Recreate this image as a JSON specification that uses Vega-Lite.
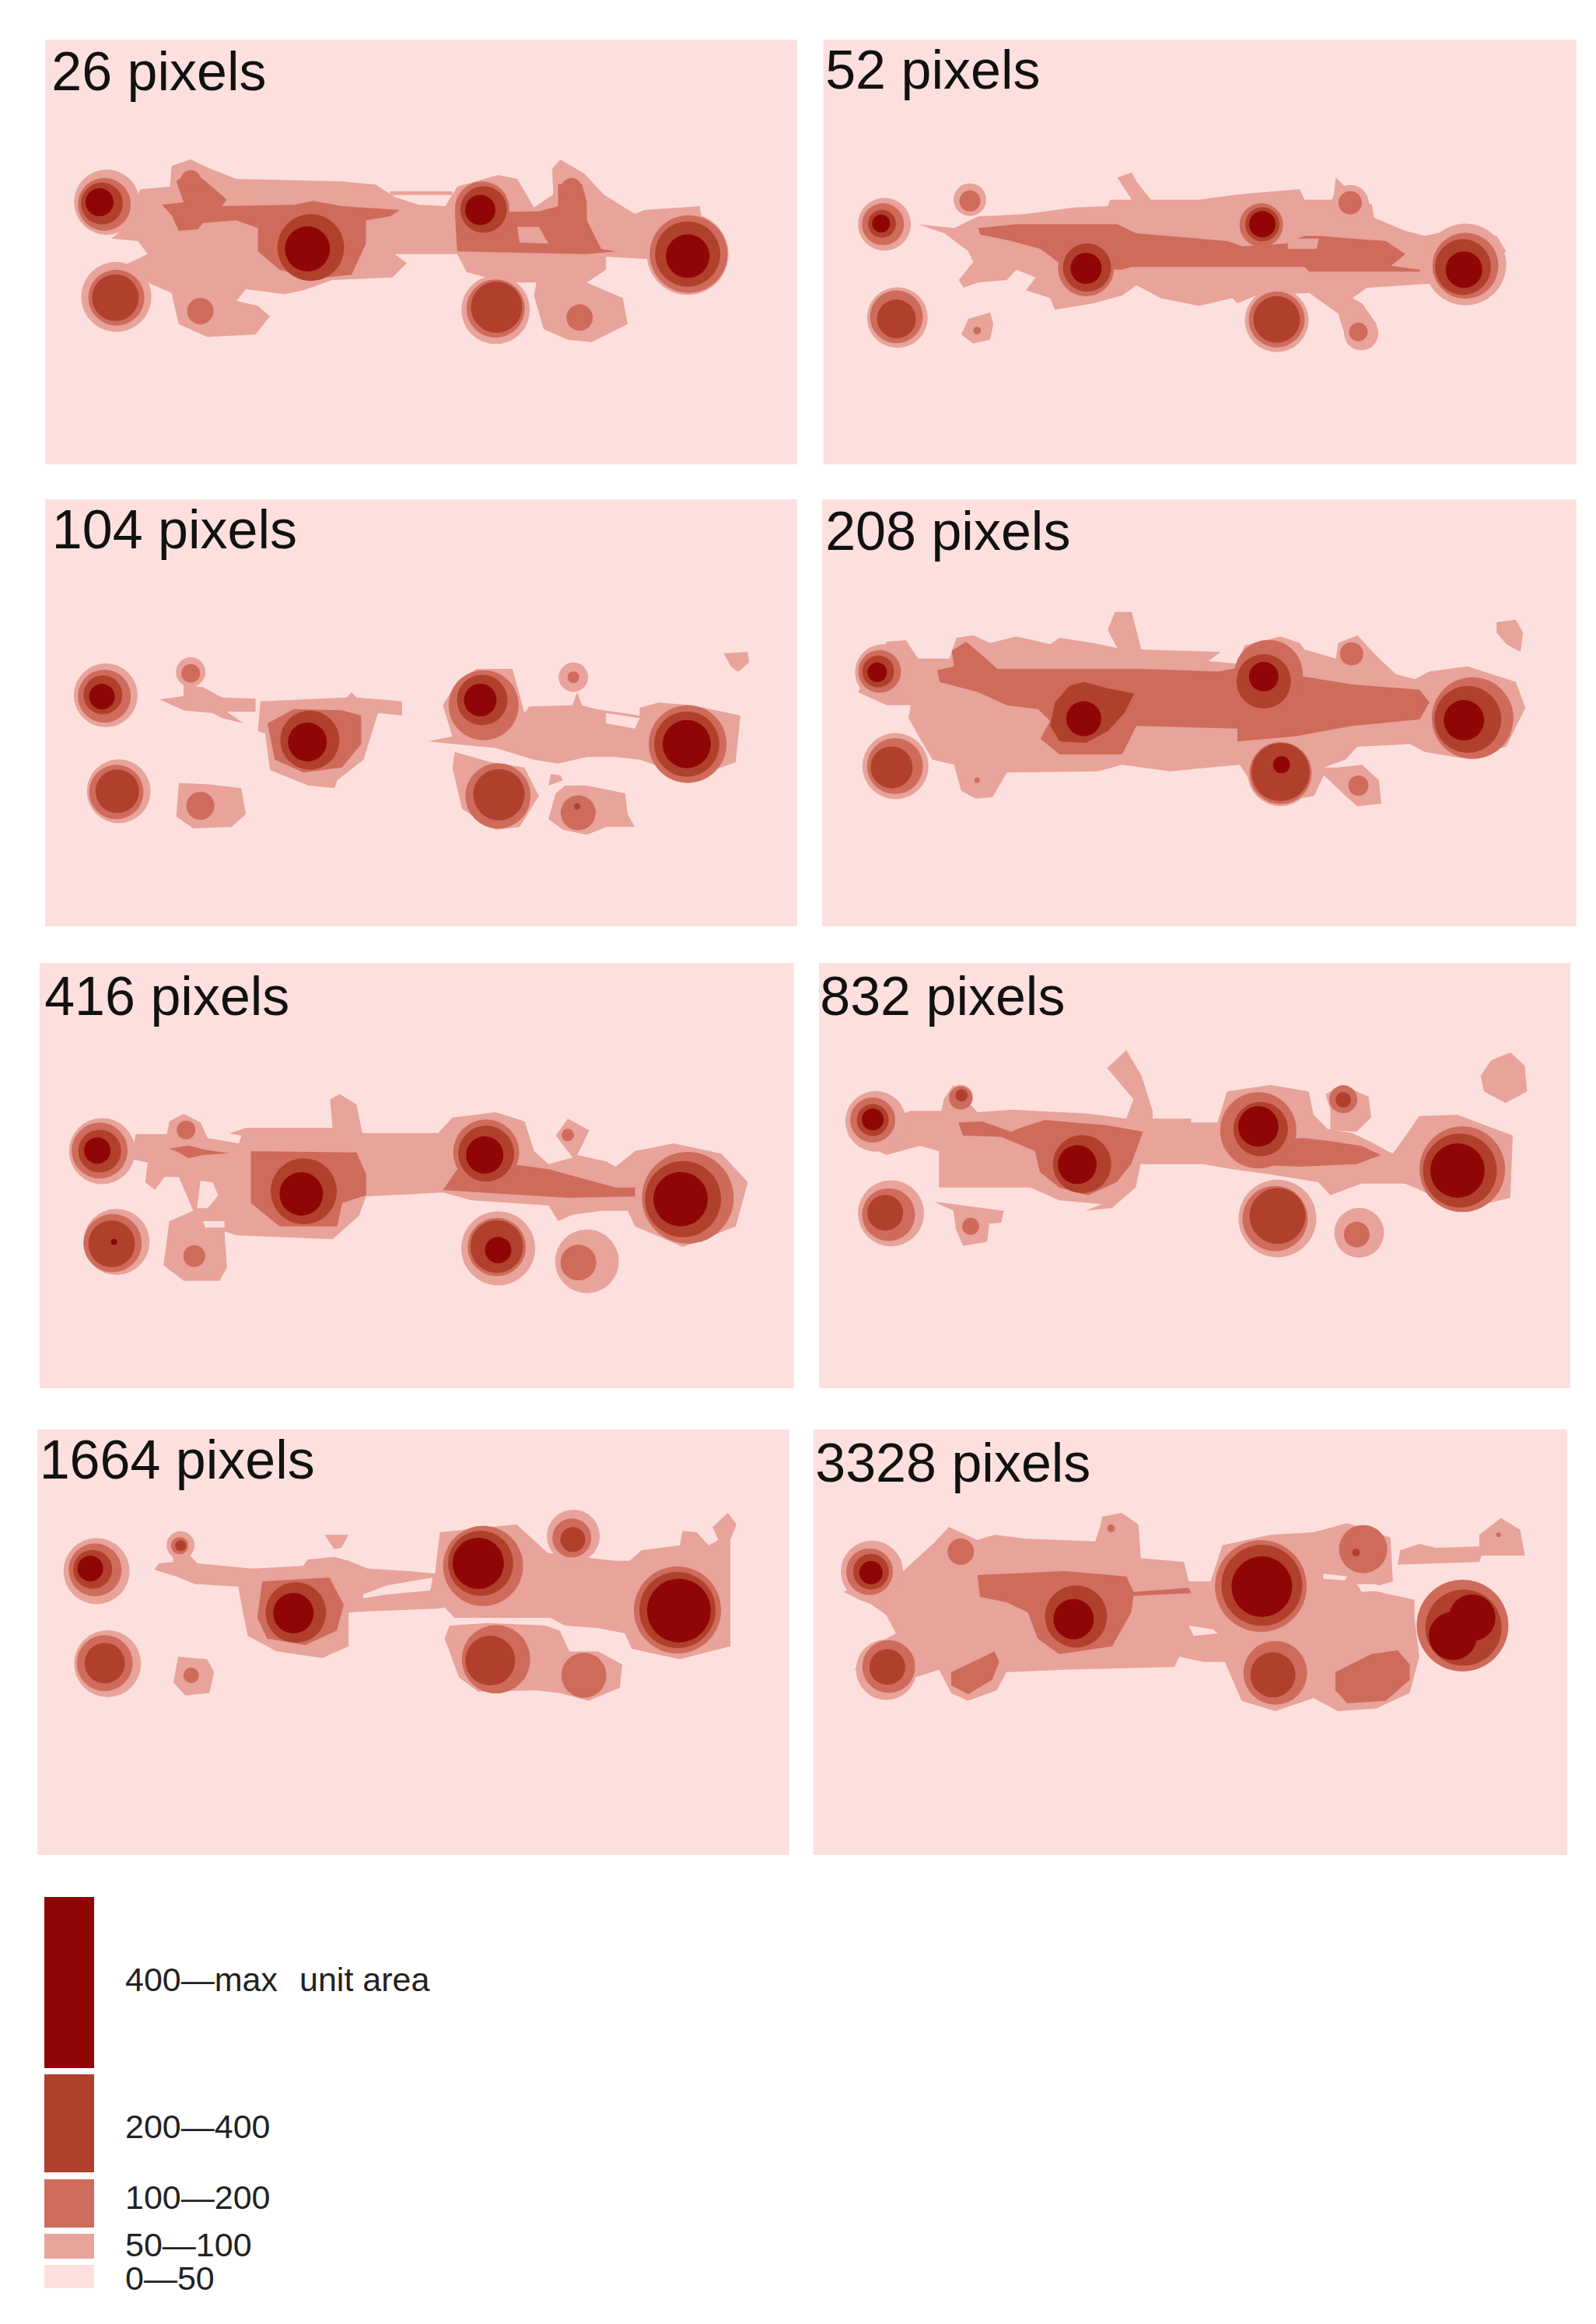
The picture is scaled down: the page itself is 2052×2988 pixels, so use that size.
{"$schema":"https://vega.github.io/schema/vega-lite/v6.json","padding":0,"background":"#ffffff","bounds":"flush","spacing":0,"columns":2,"config":{"view":{"stroke":null}},
"datasets":{
"f26":[{"x0":2,"x1":1568,"y0":-297,"y1":1341,"tx":15,"ty":-165,"label":"26 pixels"}],
"f52":[{"x0":-2,"x1":1566,"y0":-297,"y1":1341,"tx":2,"ty":-171,"label":"52 pixels"}],
"f104":[{"x0":2,"x1":1568,"y0":-414,"y1":1233,"tx":16,"ty":-288,"label":"104 pixels"}],
"f208":[{"x0":-5,"x1":1566,"y0":-384,"y1":1263,"tx":2,"ty":-252,"label":"208 pixels"}],
"f416":[{"x0":0,"x1":1571,"y0":-396,"y1":1245,"tx":10,"ty":-258,"label":"416 pixels"}],
"f832":[{"x0":0,"x1":1565,"y0":-306,"y1":1335,"tx":2,"ty":-168,"label":"832 pixels"}],
"f1664":[{"x0":2,"x1":1568,"y0":-276,"y1":1365,"tx":6,"ty":-150,"label":"1664 pixels"}],
"f3328":[{"x0":-2,"x1":1568,"y0":-276,"y1":1365,"tx":2,"ty":-138,"label":"3328 pixels"}],
"legend":[{"l":4,"x0":57,"x1":121,"y0":2439,"y1":2659,"ty":2547,"t":"400—max"},{"l":3,"x0":57,"x1":121,"y0":2667,"y1":2793,"ty":2736,"t":"200—400"},{"l":2,"x0":57,"x1":121,"y0":2802,"y1":2864,"ty":2827,"t":"100—200"},{"l":1,"x0":57,"x1":121,"y0":2872,"y1":2904,"ty":2888,"t":"50—100"},{"l":0,"x0":57,"x1":121,"y0":2912,"y1":2942,"ty":2931,"t":"0—50"}],
"unit":[{"tx":385,"ty":2547,"t":"unit area"}],
"a26":[{"g":1,"l":1,"x":200,"y":280},{"g":1,"l":1,"x":262,"y":270},{"g":1,"l":1,"x":265,"y":190},{"g":1,"l":1,"x":305,"y":165},{"g":1,"l":1,"x":345,"y":200},{"g":1,"l":1,"x":400,"y":240},{"g":1,"l":1,"x":620,"y":250},{"g":1,"l":1,"x":690,"y":262},{"g":1,"l":1,"x":730,"y":310},{"g":1,"l":1,"x":780,"y":340},{"g":1,"l":1,"x":835,"y":345},{"g":1,"l":1,"x":860,"y":270},{"g":1,"l":1,"x":945,"y":225},{"g":1,"l":1,"x":985,"y":240},{"g":1,"l":1,"x":1020,"y":350},{"g":1,"l":1,"x":1060,"y":300},{"g":1,"l":1,"x":1058,"y":200},{"g":1,"l":1,"x":1075,"y":165},{"g":1,"l":1,"x":1125,"y":220},{"g":1,"l":1,"x":1165,"y":300},{"g":1,"l":1,"x":1230,"y":375},{"g":1,"l":1,"x":1250,"y":360},{"g":1,"l":1,"x":1365,"y":345},{"g":1,"l":1,"x":1380,"y":520},{"g":1,"l":1,"x":1260,"y":550},{"g":1,"l":1,"x":1170,"y":540},{"g":1,"l":1,"x":1170,"y":590},{"g":1,"l":1,"x":1130,"y":640},{"g":1,"l":1,"x":1205,"y":700},{"g":1,"l":1,"x":1215,"y":800},{"g":1,"l":1,"x":1140,"y":870},{"g":1,"l":1,"x":1090,"y":860},{"g":1,"l":1,"x":1040,"y":820},{"g":1,"l":1,"x":1020,"y":690},{"g":1,"l":1,"x":1025,"y":640},{"g":1,"l":1,"x":960,"y":640},{"g":1,"l":1,"x":880,"y":600},{"g":1,"l":1,"x":860,"y":530},{"g":1,"l":1,"x":730,"y":530},{"g":1,"l":1,"x":755,"y":565},{"g":1,"l":1,"x":725,"y":620},{"g":1,"l":1,"x":600,"y":630},{"g":1,"l":1,"x":540,"y":670},{"g":1,"l":1,"x":500,"y":685},{"g":1,"l":1,"x":420,"y":665},{"g":1,"l":1,"x":400,"y":710},{"g":1,"l":1,"x":445,"y":730},{"g":1,"l":1,"x":470,"y":770},{"g":1,"l":1,"x":440,"y":840},{"g":1,"l":1,"x":340,"y":850},{"g":1,"l":1,"x":280,"y":800},{"g":1,"l":1,"x":265,"y":680},{"g":1,"l":1,"x":215,"y":640},{"g":1,"l":1,"x":170,"y":570},{"g":1,"l":1,"x":215,"y":530},{"g":1,"l":1,"x":195,"y":480},{"g":1,"l":1,"x":140,"y":470},{"g":1,"l":1,"x":160,"y":440},
{"g":2,"l":1,"x":720,"y":288},{"g":2,"l":1,"x":850,"y":288},{"g":2,"l":1,"x":850,"y":302},{"g":2,"l":1,"x":720,"y":302},
{"g":10,"l":2,"x":245,"y":340},{"g":10,"l":2,"x":290,"y":330},{"g":10,"l":2,"x":275,"y":250},{"g":10,"l":2,"x":300,"y":210},{"g":10,"l":2,"x":330,"y":240},{"g":10,"l":2,"x":380,"y":320},{"g":10,"l":2,"x":370,"y":345},{"g":10,"l":2,"x":520,"y":340},{"g":10,"l":2,"x":560,"y":325},{"g":10,"l":2,"x":620,"y":345},{"g":10,"l":2,"x":740,"y":360},{"g":10,"l":2,"x":720,"y":385},{"g":10,"l":2,"x":670,"y":400},{"g":10,"l":2,"x":670,"y":490},{"g":10,"l":2,"x":640,"y":610},{"g":10,"l":2,"x":560,"y":625},{"g":10,"l":2,"x":490,"y":590},{"g":10,"l":2,"x":445,"y":520},{"g":10,"l":2,"x":445,"y":430},{"g":10,"l":2,"x":400,"y":400},{"g":10,"l":2,"x":330,"y":410},{"g":10,"l":2,"x":320,"y":435},{"g":10,"l":2,"x":280,"y":440},{"g":10,"l":2,"x":265,"y":380},
{"g":11,"l":2,"x":855,"y":370},{"g":11,"l":2,"x":1030,"y":365},{"g":11,"l":2,"x":1070,"y":345},{"g":11,"l":2,"x":1070,"y":260},{"g":11,"l":2,"x":1120,"y":260},{"g":11,"l":2,"x":1130,"y":330},{"g":11,"l":2,"x":1130,"y":400},{"g":11,"l":2,"x":1160,"y":510},{"g":11,"l":2,"x":1190,"y":520},{"g":11,"l":2,"x":1130,"y":530},{"g":11,"l":2,"x":860,"y":520},
{"g":12,"l":1,"x":985,"y":425},{"g":12,"l":1,"x":1030,"y":425},{"g":12,"l":1,"x":1050,"y":490},{"g":12,"l":1,"x":990,"y":485}],
"b26":[{"l":1,"x":130,"y":330,"d":84},{"l":1,"x":1340,"y":530,"d":105},{"l":1,"x":150,"y":695,"d":90},{"l":1,"x":940,"y":745,"d":88},{"l":2,"x":125,"y":338,"d":68},{"l":2,"x":305,"y":245,"d":26},{"l":2,"x":912,"y":355,"d":70},{"l":2,"x":1098,"y":275,"d":26},{"l":2,"x":1342,"y":530,"d":100},{"l":2,"x":150,"y":698,"d":72},{"l":2,"x":325,"y":750,"d":34},{"l":2,"x":940,"y":740,"d":75},{"l":2,"x":1115,"y":775,"d":34},{"l":3,"x":120,"y":335,"d":54},{"l":3,"x":555,"y":505,"d":86},{"l":3,"x":915,"y":358,"d":60},{"l":3,"x":1340,"y":530,"d":84},{"l":3,"x":148,"y":698,"d":60},{"l":3,"x":942,"y":735,"d":66},{"l":4,"x":115,"y":330,"d":36},{"l":4,"x":548,"y":510,"d":58},{"l":4,"x":908,"y":360,"d":39},{"l":4,"x":1340,"y":538,"d":56}],
"a52":[{"g":1,"l":1,"x":195,"y":415},{"g":1,"l":1,"x":270,"y":430},{"g":1,"l":1,"x":320,"y":385},{"g":1,"l":1,"x":420,"y":375},{"g":1,"l":1,"x":520,"y":350},{"g":1,"l":1,"x":590,"y":345},{"g":1,"l":1,"x":595,"y":320},{"g":1,"l":1,"x":640,"y":320},{"g":1,"l":1,"x":610,"y":235},{"g":1,"l":1,"x":640,"y":215},{"g":1,"l":1,"x":650,"y":250},{"g":1,"l":1,"x":680,"y":320},{"g":1,"l":1,"x":780,"y":320},{"g":1,"l":1,"x":860,"y":300},{"g":1,"l":1,"x":990,"y":280},{"g":1,"l":1,"x":1000,"y":320},{"g":1,"l":1,"x":1060,"y":320},{"g":1,"l":1,"x":1065,"y":235},{"g":1,"l":1,"x":1090,"y":280},{"g":1,"l":1,"x":1140,"y":340},{"g":1,"l":1,"x":1145,"y":390},{"g":1,"l":1,"x":1210,"y":440},{"g":1,"l":1,"x":1250,"y":460},{"g":1,"l":1,"x":1300,"y":440},{"g":1,"l":1,"x":1400,"y":460},{"g":1,"l":1,"x":1420,"y":520},{"g":1,"l":1,"x":1300,"y":640},{"g":1,"l":1,"x":1130,"y":660},{"g":1,"l":1,"x":1100,"y":700},{"g":1,"l":1,"x":1120,"y":720},{"g":1,"l":1,"x":1150,"y":800},{"g":1,"l":1,"x":1140,"y":890},{"g":1,"l":1,"x":1090,"y":880},{"g":1,"l":1,"x":1070,"y":760},{"g":1,"l":1,"x":1040,"y":720},{"g":1,"l":1,"x":1010,"y":680},{"g":1,"l":1,"x":900,"y":690},{"g":1,"l":1,"x":860,"y":720},{"g":1,"l":1,"x":850,"y":700},{"g":1,"l":1,"x":780,"y":730},{"g":1,"l":1,"x":700,"y":700},{"g":1,"l":1,"x":650,"y":650},{"g":1,"l":1,"x":620,"y":690},{"g":1,"l":1,"x":560,"y":720},{"g":1,"l":1,"x":480,"y":745},{"g":1,"l":1,"x":470,"y":700},{"g":1,"l":1,"x":420,"y":670},{"g":1,"l":1,"x":440,"y":620},{"g":1,"l":1,"x":400,"y":590},{"g":1,"l":1,"x":380,"y":630},{"g":1,"l":1,"x":320,"y":640},{"g":1,"l":1,"x":290,"y":660},{"g":1,"l":1,"x":280,"y":630},{"g":1,"l":1,"x":310,"y":560},{"g":1,"l":1,"x":300,"y":520},{"g":1,"l":1,"x":250,"y":450},
{"g":2,"l":1,"x":300,"y":780},{"g":2,"l":1,"x":345,"y":755},{"g":2,"l":1,"x":352,"y":800},{"g":2,"l":1,"x":345,"y":860},{"g":2,"l":1,"x":310,"y":875},{"g":2,"l":1,"x":285,"y":840},
{"g":10,"l":2,"x":320,"y":430},{"g":10,"l":2,"x":400,"y":415},{"g":10,"l":2,"x":610,"y":415},{"g":10,"l":2,"x":650,"y":450},{"g":10,"l":2,"x":840,"y":480},{"g":10,"l":2,"x":870,"y":500},{"g":10,"l":2,"x":960,"y":490},{"g":10,"l":2,"x":1000,"y":460},{"g":10,"l":2,"x":1030,"y":460},{"g":10,"l":2,"x":1100,"y":470},{"g":10,"l":2,"x":1170,"y":480},{"g":10,"l":2,"x":1210,"y":530},{"g":10,"l":2,"x":1180,"y":575},{"g":10,"l":2,"x":1240,"y":590},{"g":10,"l":2,"x":1240,"y":598},{"g":10,"l":2,"x":1010,"y":598},{"g":10,"l":2,"x":1000,"y":580},{"g":10,"l":2,"x":640,"y":580},{"g":10,"l":2,"x":620,"y":590},{"g":10,"l":2,"x":500,"y":580},{"g":10,"l":2,"x":450,"y":510},{"g":10,"l":2,"x":390,"y":480},{"g":10,"l":2,"x":325,"y":455},
{"g":11,"l":1,"x":965,"y":470},{"g":11,"l":1,"x":1030,"y":470},{"g":11,"l":1,"x":1025,"y":510},{"g":11,"l":1,"x":965,"y":510}],
"b52":[{"l":1,"x":125,"y":415,"d":68},{"l":1,"x":303,"y":320,"d":42},{"l":1,"x":1335,"y":570,"d":105},{"l":1,"x":152,"y":775,"d":78},{"l":1,"x":942,"y":785,"d":82},{"l":1,"x":1095,"y":335,"d":48},{"l":1,"x":1118,"y":835,"d":44},{"l":2,"x":122,"y":415,"d":54},{"l":2,"x":303,"y":325,"d":27},{"l":2,"x":545,"y":585,"d":72},{"l":2,"x":910,"y":418,"d":56},{"l":2,"x":1095,"y":332,"d":30},{"l":2,"x":1335,"y":575,"d":85},{"l":2,"x":150,"y":772,"d":68},{"l":2,"x":942,"y":782,"d":72},{"l":2,"x":1112,"y":830,"d":24},{"l":2,"x":318,"y":825,"d":10},{"l":3,"x":120,"y":413,"d":36},{"l":3,"x":547,"y":582,"d":62},{"l":3,"x":912,"y":415,"d":44},{"l":3,"x":1330,"y":580,"d":72},{"l":3,"x":150,"y":780,"d":50},{"l":3,"x":942,"y":782,"d":60},{"l":4,"x":118,"y":412,"d":23},{"l":4,"x":545,"y":585,"d":40},{"l":4,"x":912,"y":415,"d":34},{"l":4,"x":1332,"y":590,"d":47}],
"a104":[{"g":1,"l":1,"x":240,"y":358},{"g":1,"l":1,"x":290,"y":345},{"g":1,"l":1,"x":290,"y":300},{"g":1,"l":1,"x":330,"y":310},{"g":1,"l":1,"x":370,"y":350},{"g":1,"l":1,"x":440,"y":355},{"g":1,"l":1,"x":440,"y":405},{"g":1,"l":1,"x":380,"y":405},{"g":1,"l":1,"x":415,"y":450},{"g":1,"l":1,"x":370,"y":430},{"g":1,"l":1,"x":350,"y":410},{"g":1,"l":1,"x":290,"y":400},
{"g":2,"l":1,"x":450,"y":365},{"g":2,"l":1,"x":630,"y":350},{"g":2,"l":1,"x":640,"y":330},{"g":2,"l":1,"x":650,"y":350},{"g":2,"l":1,"x":745,"y":365},{"g":2,"l":1,"x":745,"y":420},{"g":2,"l":1,"x":695,"y":410},{"g":2,"l":1,"x":665,"y":590},{"g":2,"l":1,"x":610,"y":670},{"g":2,"l":1,"x":605,"y":700},{"g":2,"l":1,"x":550,"y":690},{"g":2,"l":1,"x":470,"y":630},{"g":2,"l":1,"x":460,"y":490},{"g":2,"l":1,"x":445,"y":480},
{"g":3,"l":1,"x":860,"y":290},{"g":3,"l":1,"x":900,"y":240},{"g":3,"l":1,"x":975,"y":240},{"g":3,"l":1,"x":990,"y":340},{"g":3,"l":1,"x":1000,"y":410},{"g":3,"l":1,"x":1010,"y":385},{"g":3,"l":1,"x":1100,"y":380},{"g":3,"l":1,"x":1110,"y":330},{"g":3,"l":1,"x":1120,"y":380},{"g":3,"l":1,"x":1150,"y":395},{"g":3,"l":1,"x":1240,"y":420},{"g":3,"l":1,"x":1240,"y":390},{"g":3,"l":1,"x":1280,"y":370},{"g":3,"l":1,"x":1350,"y":380},{"g":3,"l":1,"x":1450,"y":420},{"g":3,"l":1,"x":1440,"y":600},{"g":3,"l":1,"x":1350,"y":660},{"g":3,"l":1,"x":1240,"y":590},{"g":3,"l":1,"x":1190,"y":580},{"g":3,"l":1,"x":1130,"y":580},{"g":3,"l":1,"x":1070,"y":605},{"g":3,"l":1,"x":1020,"y":590},{"g":3,"l":1,"x":940,"y":545},{"g":3,"l":1,"x":855,"y":530},{"g":3,"l":1,"x":800,"y":520},{"g":3,"l":1,"x":850,"y":500},{"g":3,"l":1,"x":830,"y":380},
{"g":4,"l":0,"x":1170,"y":410},{"g":4,"l":0,"x":1240,"y":430},{"g":4,"l":0,"x":1230,"y":470},{"g":4,"l":0,"x":1170,"y":450},
{"g":5,"l":1,"x":280,"y":680},{"g":5,"l":1,"x":340,"y":685},{"g":5,"l":1,"x":410,"y":700},{"g":5,"l":1,"x":420,"y":800},{"g":5,"l":1,"x":390,"y":850},{"g":5,"l":1,"x":310,"y":855},{"g":5,"l":1,"x":275,"y":810},
{"g":6,"l":1,"x":855,"y":560},{"g":6,"l":1,"x":930,"y":600},{"g":6,"l":1,"x":1000,"y":620},{"g":6,"l":1,"x":1030,"y":730},{"g":6,"l":1,"x":990,"y":850},{"g":6,"l":1,"x":940,"y":860},{"g":6,"l":1,"x":870,"y":780},{"g":6,"l":1,"x":850,"y":620},
{"g":7,"l":1,"x":1085,"y":690},{"g":7,"l":1,"x":1130,"y":690},{"g":7,"l":1,"x":1210,"y":720},{"g":7,"l":1,"x":1215,"y":800},{"g":7,"l":1,"x":1230,"y":850},{"g":7,"l":1,"x":1170,"y":850},{"g":7,"l":1,"x":1130,"y":880},{"g":7,"l":1,"x":1080,"y":860},{"g":7,"l":1,"x":1050,"y":820},{"g":7,"l":1,"x":1065,"y":720},
{"g":8,"l":1,"x":1415,"y":180},{"g":8,"l":1,"x":1465,"y":175},{"g":8,"l":1,"x":1468,"y":215},{"g":8,"l":1,"x":1445,"y":252},{"g":8,"l":1,"x":1430,"y":230},
{"g":9,"l":1,"x":1055,"y":645},{"g":9,"l":1,"x":1075,"y":650},{"g":9,"l":1,"x":1080,"y":670},{"g":9,"l":1,"x":1050,"y":690},
{"g":10,"l":2,"x":465,"y":450},{"g":10,"l":2,"x":520,"y":395},{"g":10,"l":2,"x":620,"y":400},{"g":10,"l":2,"x":660,"y":420},{"g":10,"l":2,"x":660,"y":530},{"g":10,"l":2,"x":620,"y":620},{"g":10,"l":2,"x":540,"y":640},{"g":10,"l":2,"x":480,"y":590}],
"b104":[{"l":1,"x":128,"y":342,"d":82},{"l":1,"x":305,"y":252,"d":38},{"l":1,"x":1102,"y":272,"d":38},{"l":1,"x":155,"y":712,"d":82},{"l":2,"x":125,"y":345,"d":68},{"l":2,"x":305,"y":257,"d":24},{"l":2,"x":915,"y":380,"d":90},{"l":2,"x":1102,"y":272,"d":15},{"l":2,"x":1340,"y":530,"d":100},{"l":2,"x":150,"y":715,"d":70},{"l":2,"x":325,"y":768,"d":36},{"l":2,"x":945,"y":730,"d":84},{"l":2,"x":1112,"y":795,"d":45},{"l":3,"x":122,"y":340,"d":50},{"l":3,"x":553,"y":515,"d":76},{"l":3,"x":912,"y":360,"d":65},{"l":3,"x":1338,"y":530,"d":84},{"l":3,"x":152,"y":712,"d":56},{"l":3,"x":947,"y":725,"d":66},{"l":3,"x":1110,"y":770,"d":8},{"l":4,"x":120,"y":347,"d":33},{"l":4,"x":548,"y":522,"d":50},{"l":4,"x":908,"y":360,"d":42},{"l":4,"x":1338,"y":530,"d":62}],
"a208":[{"g":1,"l":1,"x":130,"y":165},{"g":1,"l":1,"x":170,"y":160},{"g":1,"l":1,"x":195,"y":230},{"g":1,"l":1,"x":260,"y":230},{"g":1,"l":1,"x":275,"y":150},{"g":1,"l":1,"x":310,"y":140},{"g":1,"l":1,"x":345,"y":170},{"g":1,"l":1,"x":400,"y":145},{"g":1,"l":1,"x":435,"y":160},{"g":1,"l":1,"x":470,"y":175},{"g":1,"l":1,"x":490,"y":150},{"g":1,"l":1,"x":560,"y":170},{"g":1,"l":1,"x":610,"y":190},{"g":1,"l":1,"x":590,"y":120},{"g":1,"l":1,"x":605,"y":50},{"g":1,"l":1,"x":640,"y":50},{"g":1,"l":1,"x":660,"y":195},{"g":1,"l":1,"x":825,"y":205},{"g":1,"l":1,"x":800,"y":240},{"g":1,"l":1,"x":860,"y":250},{"g":1,"l":1,"x":875,"y":180},{"g":1,"l":1,"x":950,"y":145},{"g":1,"l":1,"x":990,"y":170},{"g":1,"l":1,"x":1000,"y":195},{"g":1,"l":1,"x":1065,"y":230},{"g":1,"l":1,"x":1070,"y":170},{"g":1,"l":1,"x":1110,"y":140},{"g":1,"l":1,"x":1150,"y":220},{"g":1,"l":1,"x":1190,"y":290},{"g":1,"l":1,"x":1230,"y":310},{"g":1,"l":1,"x":1260,"y":280},{"g":1,"l":1,"x":1340,"y":260},{"g":1,"l":1,"x":1440,"y":320},{"g":1,"l":1,"x":1460,"y":420},{"g":1,"l":1,"x":1420,"y":570},{"g":1,"l":1,"x":1330,"y":615},{"g":1,"l":1,"x":1250,"y":590},{"g":1,"l":1,"x":1220,"y":560},{"g":1,"l":1,"x":1110,"y":570},{"g":1,"l":1,"x":1085,"y":620},{"g":1,"l":1,"x":1040,"y":650},{"g":1,"l":1,"x":1070,"y":650},{"g":1,"l":1,"x":1120,"y":640},{"g":1,"l":1,"x":1155,"y":700},{"g":1,"l":1,"x":1160,"y":790},{"g":1,"l":1,"x":1110,"y":800},{"g":1,"l":1,"x":1085,"y":760},{"g":1,"l":1,"x":1040,"y":680},{"g":1,"l":1,"x":1020,"y":760},{"g":1,"l":1,"x":960,"y":780},{"g":1,"l":1,"x":900,"y":740},{"g":1,"l":1,"x":865,"y":640},{"g":1,"l":1,"x":720,"y":665},{"g":1,"l":1,"x":620,"y":640},{"g":1,"l":1,"x":570,"y":665},{"g":1,"l":1,"x":380,"y":670},{"g":1,"l":1,"x":350,"y":765},{"g":1,"l":1,"x":315,"y":770},{"g":1,"l":1,"x":285,"y":740},{"g":1,"l":1,"x":270,"y":640},{"g":1,"l":1,"x":225,"y":620},{"g":1,"l":1,"x":195,"y":525},{"g":1,"l":1,"x":175,"y":460},{"g":1,"l":1,"x":180,"y":410},{"g":1,"l":1,"x":130,"y":410},{"g":1,"l":1,"x":70,"y":360},
{"g":2,"l":1,"x":1400,"y":90},{"g":2,"l":1,"x":1440,"y":80},{"g":2,"l":1,"x":1455,"y":130},{"g":2,"l":1,"x":1450,"y":205},{"g":2,"l":1,"x":1420,"y":175},{"g":2,"l":1,"x":1400,"y":130},
{"g":10,"l":2,"x":235,"y":275},{"g":10,"l":2,"x":270,"y":260},{"g":10,"l":2,"x":265,"y":200},{"g":10,"l":2,"x":295,"y":165},{"g":10,"l":2,"x":330,"y":220},{"g":10,"l":2,"x":360,"y":270},{"g":10,"l":2,"x":660,"y":270},{"g":10,"l":2,"x":820,"y":280},{"g":10,"l":2,"x":880,"y":260},{"g":10,"l":2,"x":1000,"y":300},{"g":10,"l":2,"x":1100,"y":330},{"g":10,"l":2,"x":1240,"y":350},{"g":10,"l":2,"x":1260,"y":400},{"g":10,"l":2,"x":1240,"y":465},{"g":10,"l":2,"x":1100,"y":490},{"g":10,"l":2,"x":980,"y":530},{"g":10,"l":2,"x":860,"y":550},{"g":10,"l":2,"x":860,"y":500},{"g":10,"l":2,"x":650,"y":490},{"g":10,"l":2,"x":620,"y":600},{"g":10,"l":2,"x":490,"y":600},{"g":10,"l":2,"x":450,"y":540},{"g":10,"l":2,"x":470,"y":470},{"g":10,"l":2,"x":445,"y":425},{"g":10,"l":2,"x":380,"y":410},{"g":10,"l":2,"x":320,"y":360},{"g":10,"l":2,"x":240,"y":320},
{"g":11,"l":3,"x":510,"y":335},{"g":11,"l":3,"x":540,"y":320},{"g":11,"l":3,"x":590,"y":345},{"g":11,"l":3,"x":645,"y":365},{"g":11,"l":3,"x":625,"y":440},{"g":11,"l":3,"x":590,"y":510},{"g":11,"l":3,"x":545,"y":555},{"g":11,"l":3,"x":490,"y":550},{"g":11,"l":3,"x":470,"y":490},{"g":11,"l":3,"x":480,"y":400}],
"b208":[{"l":1,"x":122,"y":283,"d":72},{"l":1,"x":148,"y":645,"d":85},{"l":1,"x":950,"y":672,"d":85},{"l":2,"x":115,"y":280,"d":55},{"l":2,"x":925,"y":290,"d":88},{"l":2,"x":1098,"y":212,"d":30},{"l":2,"x":1350,"y":460,"d":105},{"l":2,"x":147,"y":645,"d":72},{"l":2,"x":950,"y":672,"d":80},{"l":2,"x":1112,"y":720,"d":26},{"l":2,"x":318,"y":700,"d":7},{"l":3,"x":112,"y":280,"d":41},{"l":3,"x":915,"y":318,"d":70},{"l":3,"x":1340,"y":465,"d":86},{"l":3,"x":140,"y":650,"d":54},{"l":3,"x":950,"y":668,"d":75},{"l":4,"x":110,"y":283,"d":25},{"l":4,"x":540,"y":462,"d":45},{"l":4,"x":915,"y":300,"d":38},{"l":4,"x":1332,"y":468,"d":52},{"l":4,"x":952,"y":640,"d":22}],
"a416":[{"g":1,"l":1,"x":200,"y":265},{"g":1,"l":1,"x":265,"y":265},{"g":1,"l":1,"x":270,"y":215},{"g":1,"l":1,"x":300,"y":185},{"g":1,"l":1,"x":335,"y":220},{"g":1,"l":1,"x":350,"y":280},{"g":1,"l":1,"x":415,"y":300},{"g":1,"l":1,"x":420,"y":270},{"g":1,"l":1,"x":395,"y":262},{"g":1,"l":1,"x":430,"y":240},{"g":1,"l":1,"x":610,"y":240},{"g":1,"l":1,"x":605,"y":130},{"g":1,"l":1,"x":625,"y":110},{"g":1,"l":1,"x":660,"y":150},{"g":1,"l":1,"x":672,"y":260},{"g":1,"l":1,"x":830,"y":260},{"g":1,"l":1,"x":860,"y":200},{"g":1,"l":1,"x":950,"y":180},{"g":1,"l":1,"x":1010,"y":215},{"g":1,"l":1,"x":1030,"y":330},{"g":1,"l":1,"x":1060,"y":380},{"g":1,"l":1,"x":1110,"y":355},{"g":1,"l":1,"x":1075,"y":270},{"g":1,"l":1,"x":1100,"y":205},{"g":1,"l":1,"x":1145,"y":250},{"g":1,"l":1,"x":1120,"y":345},{"g":1,"l":1,"x":1180,"y":370},{"g":1,"l":1,"x":1200,"y":390},{"g":1,"l":1,"x":1240,"y":330},{"g":1,"l":1,"x":1320,"y":300},{"g":1,"l":1,"x":1420,"y":340},{"g":1,"l":1,"x":1475,"y":450},{"g":1,"l":1,"x":1450,"y":620},{"g":1,"l":1,"x":1340,"y":700},{"g":1,"l":1,"x":1240,"y":620},{"g":1,"l":1,"x":1225,"y":560},{"g":1,"l":1,"x":1170,"y":560},{"g":1,"l":1,"x":1110,"y":575},{"g":1,"l":1,"x":1080,"y":600},{"g":1,"l":1,"x":1060,"y":540},{"g":1,"l":1,"x":900,"y":520},{"g":1,"l":1,"x":840,"y":490},{"g":1,"l":1,"x":680,"y":505},{"g":1,"l":1,"x":665,"y":580},{"g":1,"l":1,"x":610,"y":670},{"g":1,"l":1,"x":410,"y":655},{"g":1,"l":1,"x":385,"y":640},{"g":1,"l":1,"x":390,"y":780},{"g":1,"l":1,"x":375,"y":830},{"g":1,"l":1,"x":300,"y":830},{"g":1,"l":1,"x":258,"y":770},{"g":1,"l":1,"x":270,"y":600},{"g":1,"l":1,"x":320,"y":560},{"g":1,"l":1,"x":290,"y":430},{"g":1,"l":1,"x":260,"y":430},{"g":1,"l":1,"x":240,"y":480},{"g":1,"l":1,"x":220,"y":450},{"g":1,"l":1,"x":225,"y":375},{"g":1,"l":1,"x":190,"y":360},
{"g":2,"l":0,"x":335,"y":445},{"g":2,"l":0,"x":360,"y":450},{"g":2,"l":0,"x":372,"y":500},{"g":2,"l":0,"x":350,"y":550},{"g":2,"l":0,"x":328,"y":550},
{"g":3,"l":0,"x":340,"y":600},{"g":3,"l":0,"x":385,"y":600},{"g":3,"l":0,"x":385,"y":625},{"g":3,"l":0,"x":345,"y":625},
{"g":10,"l":2,"x":440,"y":330},{"g":10,"l":2,"x":660,"y":335},{"g":10,"l":2,"x":680,"y":420},{"g":10,"l":2,"x":680,"y":500},{"g":10,"l":2,"x":630,"y":530},{"g":10,"l":2,"x":620,"y":620},{"g":10,"l":2,"x":500,"y":620},{"g":10,"l":2,"x":440,"y":530},
{"g":11,"l":2,"x":1000,"y":385},{"g":11,"l":2,"x":1060,"y":400},{"g":11,"l":2,"x":1140,"y":440},{"g":11,"l":2,"x":1200,"y":470},{"g":11,"l":2,"x":1240,"y":470},{"g":11,"l":2,"x":1240,"y":505},{"g":11,"l":2,"x":1100,"y":510},{"g":11,"l":2,"x":920,"y":490},{"g":11,"l":2,"x":840,"y":480},{"g":11,"l":2,"x":870,"y":400},{"g":11,"l":2,"x":960,"y":380},
{"g":12,"l":2,"x":270,"y":320},{"g":12,"l":2,"x":310,"y":308},{"g":12,"l":2,"x":345,"y":325},{"g":12,"l":2,"x":395,"y":338},{"g":12,"l":2,"x":340,"y":345},{"g":12,"l":2,"x":310,"y":358},{"g":12,"l":2,"x":290,"y":335}],
"b416":[{"l":1,"x":130,"y":330,"d":85},{"l":1,"x":160,"y":680,"d":85},{"l":1,"x":955,"y":705,"d":95},{"l":1,"x":1140,"y":755,"d":82},{"l":2,"x":305,"y":248,"d":24},{"l":2,"x":125,"y":328,"d":72},{"l":2,"x":930,"y":335,"d":85},{"l":2,"x":1100,"y":268,"d":16},{"l":2,"x":1350,"y":510,"d":118},{"l":2,"x":152,"y":685,"d":75},{"l":2,"x":322,"y":735,"d":28},{"l":2,"x":952,"y":700,"d":75},{"l":2,"x":1122,"y":760,"d":46},{"l":3,"x":125,"y":330,"d":55},{"l":3,"x":550,"y":485,"d":85},{"l":3,"x":930,"y":340,"d":72},{"l":3,"x":1340,"y":515,"d":98},{"l":3,"x":150,"y":688,"d":60},{"l":3,"x":952,"y":698,"d":68},{"l":4,"x":120,"y":328,"d":34},{"l":4,"x":545,"y":495,"d":56},{"l":4,"x":927,"y":345,"d":48},{"l":4,"x":1335,"y":515,"d":70},{"l":4,"x":155,"y":680,"d":8},{"l":4,"x":955,"y":712,"d":34}],
"a832":[{"g":1,"l":1,"x":190,"y":265},{"g":1,"l":1,"x":255,"y":265},{"g":1,"l":1,"x":260,"y":220},{"g":1,"l":1,"x":280,"y":165},{"g":1,"l":1,"x":330,"y":270},{"g":1,"l":1,"x":400,"y":260},{"g":1,"l":1,"x":560,"y":275},{"g":1,"l":1,"x":640,"y":295},{"g":1,"l":1,"x":655,"y":220},{"g":1,"l":1,"x":600,"y":100},{"g":1,"l":1,"x":640,"y":30},{"g":1,"l":1,"x":672,"y":130},{"g":1,"l":1,"x":695,"y":265},{"g":1,"l":1,"x":695,"y":295},{"g":1,"l":1,"x":775,"y":295},{"g":1,"l":1,"x":775,"y":310},{"g":1,"l":1,"x":830,"y":310},{"g":1,"l":1,"x":850,"y":190},{"g":1,"l":1,"x":940,"y":165},{"g":1,"l":1,"x":1020,"y":190},{"g":1,"l":1,"x":1030,"y":280},{"g":1,"l":1,"x":1060,"y":335},{"g":1,"l":1,"x":1110,"y":350},{"g":1,"l":1,"x":1145,"y":380},{"g":1,"l":1,"x":1195,"y":430},{"g":1,"l":1,"x":1230,"y":340},{"g":1,"l":1,"x":1250,"y":285},{"g":1,"l":1,"x":1330,"y":280},{"g":1,"l":1,"x":1445,"y":360},{"g":1,"l":1,"x":1440,"y":600},{"g":1,"l":1,"x":1340,"y":645},{"g":1,"l":1,"x":1240,"y":560},{"g":1,"l":1,"x":1220,"y":545},{"g":1,"l":1,"x":1130,"y":545},{"g":1,"l":1,"x":1065,"y":590},{"g":1,"l":1,"x":1040,"y":540},{"g":1,"l":1,"x":940,"y":510},{"g":1,"l":1,"x":860,"y":490},{"g":1,"l":1,"x":800,"y":470},{"g":1,"l":1,"x":670,"y":470},{"g":1,"l":1,"x":660,"y":560},{"g":1,"l":1,"x":610,"y":640},{"g":1,"l":1,"x":555,"y":650},{"g":1,"l":1,"x":590,"y":625},{"g":1,"l":1,"x":500,"y":610},{"g":1,"l":1,"x":440,"y":560},{"g":1,"l":1,"x":250,"y":560},{"g":1,"l":1,"x":250,"y":420},{"g":1,"l":1,"x":210,"y":400},{"g":1,"l":1,"x":140,"y":435},{"g":1,"l":1,"x":60,"y":360},
{"g":2,"l":1,"x":1055,"y":200},{"g":2,"l":1,"x":1090,"y":165},{"g":2,"l":1,"x":1145,"y":210},{"g":2,"l":1,"x":1150,"y":290},{"g":2,"l":1,"x":1120,"y":345},{"g":2,"l":1,"x":1065,"y":340},{"g":2,"l":1,"x":1065,"y":260},
{"g":3,"l":1,"x":240,"y":615},{"g":3,"l":1,"x":385,"y":650},{"g":3,"l":1,"x":380,"y":695},{"g":3,"l":1,"x":355,"y":700},{"g":3,"l":1,"x":350,"y":770},{"g":3,"l":1,"x":300,"y":785},{"g":3,"l":1,"x":285,"y":720},{"g":3,"l":1,"x":280,"y":650},
{"g":4,"l":1,"x":1400,"y":70},{"g":4,"l":1,"x":1440,"y":40},{"g":4,"l":1,"x":1470,"y":90},{"g":4,"l":1,"x":1475,"y":190},{"g":4,"l":1,"x":1430,"y":235},{"g":4,"l":1,"x":1385,"y":190},{"g":4,"l":1,"x":1378,"y":130},
{"g":10,"l":2,"x":420,"y":330},{"g":10,"l":2,"x":470,"y":300},{"g":10,"l":2,"x":600,"y":320},{"g":10,"l":2,"x":675,"y":345},{"g":10,"l":2,"x":650,"y":470},{"g":10,"l":2,"x":620,"y":540},{"g":10,"l":2,"x":560,"y":590},{"g":10,"l":2,"x":500,"y":560},{"g":10,"l":2,"x":460,"y":500},{"g":10,"l":2,"x":450,"y":420},{"g":10,"l":2,"x":380,"y":365},{"g":10,"l":2,"x":300,"y":360},{"g":10,"l":2,"x":290,"y":310},{"g":10,"l":2,"x":340,"y":305},{"g":10,"l":2,"x":400,"y":345},
{"g":11,"l":2,"x":1010,"y":370},{"g":11,"l":2,"x":1060,"y":380},{"g":11,"l":2,"x":1130,"y":400},{"g":11,"l":2,"x":1170,"y":435},{"g":11,"l":2,"x":1120,"y":470},{"g":11,"l":2,"x":1000,"y":480},{"g":11,"l":2,"x":880,"y":470},{"g":11,"l":2,"x":840,"y":400},{"g":11,"l":2,"x":900,"y":380}],
"b832":[{"l":1,"x":118,"y":305,"d":78},{"l":1,"x":295,"y":212,"d":32},{"l":1,"x":150,"y":660,"d":85},{"l":1,"x":955,"y":680,"d":100},{"l":1,"x":1125,"y":735,"d":64},{"l":2,"x":112,"y":300,"d":58},{"l":2,"x":295,"y":215,"d":30},{"l":2,"x":915,"y":340,"d":98},{"l":2,"x":1092,"y":220,"d":36},{"l":2,"x":1340,"y":490,"d":110},{"l":2,"x":145,"y":665,"d":68},{"l":2,"x":316,"y":710,"d":22},{"l":2,"x":950,"y":680,"d":84},{"l":2,"x":1120,"y":742,"d":33},{"l":3,"x":112,"y":300,"d":41},{"l":3,"x":297,"y":205,"d":16},{"l":3,"x":548,"y":470,"d":75},{"l":3,"x":920,"y":335,"d":70},{"l":3,"x":1092,"y":222,"d":20},{"l":3,"x":1335,"y":495,"d":95},{"l":3,"x":138,"y":658,"d":46},{"l":3,"x":955,"y":670,"d":72},{"l":4,"x":112,"y":298,"d":28},{"l":4,"x":538,"y":472,"d":50},{"l":4,"x":915,"y":325,"d":52},{"l":4,"x":1330,"y":495,"d":70}],
"a1664":[{"g":1,"l":1,"x":245,"y":265},{"g":1,"l":1,"x":255,"y":240},{"g":1,"l":1,"x":285,"y":235},{"g":1,"l":1,"x":280,"y":170},{"g":1,"l":1,"x":320,"y":210},{"g":1,"l":1,"x":335,"y":240},{"g":1,"l":1,"x":450,"y":260},{"g":1,"l":1,"x":555,"y":250},{"g":1,"l":1,"x":565,"y":225},{"g":1,"l":1,"x":620,"y":215},{"g":1,"l":1,"x":650,"y":230},{"g":1,"l":1,"x":690,"y":260},{"g":1,"l":1,"x":775,"y":270},{"g":1,"l":1,"x":830,"y":280},{"g":1,"l":1,"x":840,"y":120},{"g":1,"l":1,"x":1000,"y":90},{"g":1,"l":1,"x":1065,"y":200},{"g":1,"l":1,"x":1130,"y":215},{"g":1,"l":1,"x":1205,"y":230},{"g":1,"l":1,"x":1235,"y":230},{"g":1,"l":1,"x":1260,"y":190},{"g":1,"l":1,"x":1340,"y":170},{"g":1,"l":1,"x":1345,"y":115},{"g":1,"l":1,"x":1375,"y":120},{"g":1,"l":1,"x":1400,"y":170},{"g":1,"l":1,"x":1420,"y":150},{"g":1,"l":1,"x":1408,"y":100},{"g":1,"l":1,"x":1440,"y":45},{"g":1,"l":1,"x":1458,"y":90},{"g":1,"l":1,"x":1445,"y":150},{"g":1,"l":1,"x":1445,"y":560},{"g":1,"l":1,"x":1340,"y":610},{"g":1,"l":1,"x":1240,"y":570},{"g":1,"l":1,"x":1225,"y":510},{"g":1,"l":1,"x":1170,"y":490},{"g":1,"l":1,"x":1100,"y":480},{"g":1,"l":1,"x":1070,"y":450},{"g":1,"l":1,"x":870,"y":450},{"g":1,"l":1,"x":850,"y":410},{"g":1,"l":1,"x":835,"y":415},{"g":1,"l":1,"x":690,"y":425},{"g":1,"l":1,"x":650,"y":430},{"g":1,"l":1,"x":650,"y":560},{"g":1,"l":1,"x":595,"y":605},{"g":1,"l":1,"x":500,"y":580},{"g":1,"l":1,"x":440,"y":520},{"g":1,"l":1,"x":430,"y":430},{"g":1,"l":1,"x":420,"y":330},{"g":1,"l":1,"x":330,"y":320},{"g":1,"l":1,"x":290,"y":290},
{"g":2,"l":0,"x":680,"y":360},{"g":2,"l":0,"x":730,"y":325},{"g":2,"l":0,"x":825,"y":295},{"g":2,"l":0,"x":820,"y":345},{"g":2,"l":0,"x":730,"y":360},{"g":2,"l":0,"x":680,"y":375},
{"g":3,"l":1,"x":600,"y":130},{"g":3,"l":1,"x":650,"y":130},{"g":3,"l":1,"x":635,"y":180},{"g":3,"l":1,"x":620,"y":185},
{"g":4,"l":1,"x":860,"y":480},{"g":4,"l":1,"x":940,"y":470},{"g":4,"l":1,"x":1060,"y":480},{"g":4,"l":1,"x":1090,"y":500},{"g":4,"l":1,"x":1110,"y":580},{"g":4,"l":1,"x":1170,"y":580},{"g":4,"l":1,"x":1220,"y":630},{"g":4,"l":1,"x":1215,"y":720},{"g":4,"l":1,"x":1150,"y":770},{"g":4,"l":1,"x":1090,"y":740},{"g":4,"l":1,"x":1040,"y":730},{"g":4,"l":1,"x":920,"y":735},{"g":4,"l":1,"x":880,"y":680},{"g":4,"l":1,"x":850,"y":530},
{"g":5,"l":1,"x":295,"y":600},{"g":5,"l":1,"x":355,"y":610},{"g":5,"l":1,"x":370,"y":660},{"g":5,"l":1,"x":360,"y":740},{"g":5,"l":1,"x":310,"y":750},{"g":5,"l":1,"x":285,"y":700},
{"g":10,"l":2,"x":470,"y":310},{"g":10,"l":2,"x":610,"y":295},{"g":10,"l":2,"x":640,"y":400},{"g":10,"l":2,"x":625,"y":500},{"g":10,"l":2,"x":560,"y":555},{"g":10,"l":2,"x":480,"y":530},{"g":10,"l":2,"x":460,"y":450}],
"b1664":[{"l":1,"x":125,"y":270,"d":85},{"l":1,"x":300,"y":170,"d":36},{"l":1,"x":1118,"y":135,"d":68},{"l":1,"x":148,"y":627,"d":86},{"l":2,"x":122,"y":265,"d":68},{"l":2,"x":298,"y":172,"d":22},{"l":2,"x":930,"y":250,"d":103},{"l":2,"x":1115,"y":142,"d":50},{"l":2,"x":1335,"y":420,"d":112},{"l":2,"x":142,"y":625,"d":72},{"l":2,"x":322,"y":672,"d":20},{"l":2,"x":957,"y":610,"d":88},{"l":2,"x":1140,"y":672,"d":58},{"l":3,"x":117,"y":263,"d":50},{"l":3,"x":300,"y":172,"d":14},{"l":3,"x":540,"y":430,"d":78},{"l":3,"x":925,"y":240,"d":84},{"l":3,"x":1117,"y":148,"d":32},{"l":3,"x":1335,"y":420,"d":98},{"l":3,"x":142,"y":625,"d":52},{"l":3,"x":945,"y":615,"d":64},{"l":4,"x":112,"y":260,"d":33},{"l":4,"x":535,"y":432,"d":52},{"l":4,"x":920,"y":240,"d":66},{"l":4,"x":1338,"y":422,"d":82}],
"a3328":[{"g":1,"l":1,"x":185,"y":270},{"g":1,"l":1,"x":250,"y":160},{"g":1,"l":1,"x":280,"y":100},{"g":1,"l":1,"x":340,"y":150},{"g":1,"l":1,"x":375,"y":130},{"g":1,"l":1,"x":440,"y":145},{"g":1,"l":1,"x":585,"y":155},{"g":1,"l":1,"x":595,"y":100},{"g":1,"l":1,"x":600,"y":60},{"g":1,"l":1,"x":640,"y":45},{"g":1,"l":1,"x":675,"y":90},{"g":1,"l":1,"x":680,"y":220},{"g":1,"l":1,"x":770,"y":235},{"g":1,"l":1,"x":780,"y":310},{"g":1,"l":1,"x":825,"y":310},{"g":1,"l":1,"x":850,"y":170},{"g":1,"l":1,"x":950,"y":130},{"g":1,"l":1,"x":1040,"y":120},{"g":1,"l":1,"x":1110,"y":85},{"g":1,"l":1,"x":1200,"y":140},{"g":1,"l":1,"x":1205,"y":310},{"g":1,"l":1,"x":1150,"y":340},{"g":1,"l":1,"x":1250,"y":380},{"g":1,"l":1,"x":1250,"y":450},{"g":1,"l":1,"x":1260,"y":600},{"g":1,"l":1,"x":1240,"y":740},{"g":1,"l":1,"x":1170,"y":800},{"g":1,"l":1,"x":1090,"y":810},{"g":1,"l":1,"x":1040,"y":760},{"g":1,"l":1,"x":960,"y":810},{"g":1,"l":1,"x":890,"y":770},{"g":1,"l":1,"x":855,"y":620},{"g":1,"l":1,"x":810,"y":620},{"g":1,"l":1,"x":760,"y":600},{"g":1,"l":1,"x":750,"y":640},{"g":1,"l":1,"x":520,"y":650},{"g":1,"l":1,"x":400,"y":660},{"g":1,"l":1,"x":380,"y":730},{"g":1,"l":1,"x":320,"y":770},{"g":1,"l":1,"x":285,"y":740},{"g":1,"l":1,"x":260,"y":650},{"g":1,"l":1,"x":210,"y":680},{"g":1,"l":1,"x":190,"y":740},{"g":1,"l":1,"x":120,"y":720},{"g":1,"l":1,"x":85,"y":650},{"g":1,"l":1,"x":100,"y":580},{"g":1,"l":1,"x":170,"y":510},{"g":1,"l":1,"x":150,"y":440},{"g":1,"l":1,"x":120,"y":400},{"g":1,"l":1,"x":60,"y":350},
{"g":2,"l":0,"x":1060,"y":280},{"g":2,"l":0,"x":1110,"y":290},{"g":2,"l":0,"x":1105,"y":305},{"g":2,"l":0,"x":1060,"y":300},
{"g":3,"l":0,"x":1130,"y":320},{"g":3,"l":0,"x":1170,"y":320},{"g":3,"l":0,"x":1195,"y":345},{"g":3,"l":0,"x":1140,"y":350},
{"g":4,"l":0,"x":780,"y":480},{"g":4,"l":0,"x":830,"y":495},{"g":4,"l":0,"x":840,"y":510},{"g":4,"l":0,"x":790,"y":520},
{"g":5,"l":1,"x":1385,"y":130},{"g":5,"l":1,"x":1430,"y":65},{"g":5,"l":1,"x":1470,"y":110},{"g":5,"l":1,"x":1480,"y":210},{"g":5,"l":1,"x":1390,"y":210},{"g":5,"l":1,"x":1385,"y":235},{"g":5,"l":1,"x":1215,"y":245},{"g":5,"l":1,"x":1220,"y":190},{"g":5,"l":1,"x":1260,"y":165},{"g":5,"l":1,"x":1295,"y":180},{"g":5,"l":1,"x":1385,"y":175},
{"g":10,"l":2,"x":340,"y":285},{"g":10,"l":2,"x":520,"y":270},{"g":10,"l":2,"x":650,"y":290},{"g":10,"l":2,"x":665,"y":350},{"g":10,"l":2,"x":780,"y":335},{"g":10,"l":2,"x":785,"y":355},{"g":10,"l":2,"x":665,"y":365},{"g":10,"l":2,"x":660,"y":430},{"g":10,"l":2,"x":620,"y":560},{"g":10,"l":2,"x":510,"y":590},{"g":10,"l":2,"x":465,"y":530},{"g":10,"l":2,"x":445,"y":430},{"g":10,"l":2,"x":400,"y":390},{"g":10,"l":2,"x":345,"y":370},
{"g":11,"l":2,"x":285,"y":660},{"g":11,"l":2,"x":375,"y":580},{"g":11,"l":2,"x":385,"y":620},{"g":11,"l":2,"x":370,"y":690},{"g":11,"l":2,"x":320,"y":745},{"g":11,"l":2,"x":285,"y":710},
{"g":12,"l":2,"x":1085,"y":660},{"g":12,"l":2,"x":1160,"y":590},{"g":12,"l":2,"x":1215,"y":575},{"g":12,"l":2,"x":1240,"y":630},{"g":12,"l":2,"x":1240,"y":690},{"g":12,"l":2,"x":1190,"y":770},{"g":12,"l":2,"x":1110,"y":780},{"g":12,"l":2,"x":1085,"y":730}],
"b3328":[{"l":1,"x":120,"y":272,"d":80},{"l":1,"x":150,"y":650,"d":78},{"l":2,"x":115,"y":272,"d":60},{"l":2,"x":305,"y":195,"d":34},{"l":2,"x":618,"y":105,"d":10},{"l":2,"x":930,"y":328,"d":118},{"l":2,"x":1143,"y":185,"d":62},{"l":2,"x":1350,"y":480,"d":118},{"l":2,"x":155,"y":638,"d":68},{"l":2,"x":960,"y":662,"d":82},{"l":2,"x":1425,"y":130,"d":6},{"l":3,"x":118,"y":272,"d":46},{"l":3,"x":545,"y":445,"d":80},{"l":3,"x":932,"y":325,"d":104},{"l":3,"x":1128,"y":198,"d":10},{"l":3,"x":1352,"y":488,"d":98},{"l":3,"x":152,"y":640,"d":46},{"l":3,"x":955,"y":670,"d":58},{"l":4,"x":118,"y":276,"d":30},{"l":4,"x":540,"y":455,"d":52},{"l":4,"x":932,"y":330,"d":78},{"l":4,"x":1330,"y":520,"d":62},{"l":4,"x":1370,"y":450,"d":60}]
},
"concat":[
{"width":1026,"height":597,"encoding":{"x":{"type":"quantitative","axis":null,"scale":{"domain":[-92.3,1569.8],"nice":false,"zero":false}},"y":{"type":"quantitative","axis":null,"scale":{"domain":[1341,-450],"nice":false,"zero":false}},"fill":{"type":"ordinal","legend":null,"scale":{"domain":[0,1,2,3,4],"range":["#fde0de","#e8a39b","#cf6b5b","#b0402c","#900606"]}}},"layer":[
{"data":{"name":"f26"},"mark":{"type":"rect","fill":"#fde0de"},"encoding":{"x":{"field":"x0","type":"quantitative"},"x2":{"field":"x1"},"y":{"field":"y0","type":"quantitative"},"y2":{"field":"y1"}}},
{"data":{"name":"a26"},"transform":[{"filter":"datum.g<10"}],"mark":{"type":"line","strokeWidth":0},"encoding":{"x":{"field":"x"},"y":{"field":"y"},"detail":{"field":"g"},"order":{"value":null},"fill":{"field":"l"}}},
{"data":{"name":"b26"},"transform":[{"filter":"datum.l==1"}],"mark":{"type":"point","filled":true,"shape":"circle","opacity":1},"encoding":{"x":{"field":"x"},"y":{"field":"y"},"size":{"field":"d","type":"quantitative","legend":null,"scale":{"type":"pow","exponent":2,"domain":[0,100],"range":[0,10000]}},"fill":{"field":"l"}}},
{"data":{"name":"a26"},"transform":[{"filter":"datum.g>=10"}],"mark":{"type":"line","strokeWidth":0},"encoding":{"x":{"field":"x"},"y":{"field":"y"},"detail":{"field":"g"},"order":{"value":null},"fill":{"field":"l"}}},
{"data":{"name":"b26"},"transform":[{"filter":"datum.l>1"}],"mark":{"type":"point","filled":true,"shape":"circle","opacity":1},"encoding":{"x":{"field":"x"},"y":{"field":"y"},"size":{"field":"d","type":"quantitative","legend":null,"scale":{"type":"pow","exponent":2,"domain":[0,100],"range":[0,10000]}},"fill":{"field":"l"}}},
{"data":{"name":"f26"},"mark":{"type":"text","align":"left","baseline":"middle","font":"Liberation Sans","fontSize":70,"fill":"#111111"},"encoding":{"x":{"field":"tx"},"y":{"field":"ty"},"text":{"field":"label"}}}]},
{"width":1026,"height":597,"encoding":{"x":{"type":"quantitative","axis":null,"scale":{"domain":[-55,1607],"nice":false,"zero":false}},"y":{"type":"quantitative","axis":null,"scale":{"domain":[1341,-450],"nice":false,"zero":false}},"fill":{"type":"ordinal","legend":null,"scale":{"domain":[0,1,2,3,4],"range":["#fde0de","#e8a39b","#cf6b5b","#b0402c","#900606"]}}},"layer":[
{"data":{"name":"f52"},"mark":{"type":"rect","fill":"#fde0de"},"encoding":{"x":{"field":"x0","type":"quantitative"},"x2":{"field":"x1"},"y":{"field":"y0","type":"quantitative"},"y2":{"field":"y1"}}},
{"data":{"name":"a52"},"transform":[{"filter":"datum.g<10"}],"mark":{"type":"line","strokeWidth":0},"encoding":{"x":{"field":"x"},"y":{"field":"y"},"detail":{"field":"g"},"order":{"value":null},"fill":{"field":"l"}}},
{"data":{"name":"b52"},"transform":[{"filter":"datum.l==1"}],"mark":{"type":"point","filled":true,"shape":"circle","opacity":1},"encoding":{"x":{"field":"x"},"y":{"field":"y"},"size":{"field":"d","type":"quantitative","legend":null,"scale":{"type":"pow","exponent":2,"domain":[0,100],"range":[0,10000]}},"fill":{"field":"l"}}},
{"data":{"name":"a52"},"transform":[{"filter":"datum.g>=10"}],"mark":{"type":"line","strokeWidth":0},"encoding":{"x":{"field":"x"},"y":{"field":"y"},"detail":{"field":"g"},"order":{"value":null},"fill":{"field":"l"}}},
{"data":{"name":"b52"},"transform":[{"filter":"datum.l>1"}],"mark":{"type":"point","filled":true,"shape":"circle","opacity":1},"encoding":{"x":{"field":"x"},"y":{"field":"y"},"size":{"field":"d","type":"quantitative","legend":null,"scale":{"type":"pow","exponent":2,"domain":[0,100],"range":[0,10000]}},"fill":{"field":"l"}}},
{"data":{"name":"f52"},"mark":{"type":"text","align":"left","baseline":"middle","font":"Liberation Sans","fontSize":70,"fill":"#111111"},"encoding":{"x":{"field":"tx"},"y":{"field":"ty"},"text":{"field":"label"}}}]},
{"width":1026,"height":597,"encoding":{"x":{"type":"quantitative","axis":null,"scale":{"domain":[-92.3,1569.8],"nice":false,"zero":false}},"y":{"type":"quantitative","axis":null,"scale":{"domain":[1242,-549],"nice":false,"zero":false}},"fill":{"type":"ordinal","legend":null,"scale":{"domain":[0,1,2,3,4],"range":["#fde0de","#e8a39b","#cf6b5b","#b0402c","#900606"]}}},"layer":[
{"data":{"name":"f104"},"mark":{"type":"rect","fill":"#fde0de"},"encoding":{"x":{"field":"x0","type":"quantitative"},"x2":{"field":"x1"},"y":{"field":"y0","type":"quantitative"},"y2":{"field":"y1"}}},
{"data":{"name":"a104"},"transform":[{"filter":"datum.g<10"}],"mark":{"type":"line","strokeWidth":0},"encoding":{"x":{"field":"x"},"y":{"field":"y"},"detail":{"field":"g"},"order":{"value":null},"fill":{"field":"l"}}},
{"data":{"name":"b104"},"transform":[{"filter":"datum.l==1"}],"mark":{"type":"point","filled":true,"shape":"circle","opacity":1},"encoding":{"x":{"field":"x"},"y":{"field":"y"},"size":{"field":"d","type":"quantitative","legend":null,"scale":{"type":"pow","exponent":2,"domain":[0,100],"range":[0,10000]}},"fill":{"field":"l"}}},
{"data":{"name":"a104"},"transform":[{"filter":"datum.g>=10"}],"mark":{"type":"line","strokeWidth":0},"encoding":{"x":{"field":"x"},"y":{"field":"y"},"detail":{"field":"g"},"order":{"value":null},"fill":{"field":"l"}}},
{"data":{"name":"b104"},"transform":[{"filter":"datum.l>1"}],"mark":{"type":"point","filled":true,"shape":"circle","opacity":1},"encoding":{"x":{"field":"x"},"y":{"field":"y"},"size":{"field":"d","type":"quantitative","legend":null,"scale":{"type":"pow","exponent":2,"domain":[0,100],"range":[0,10000]}},"fill":{"field":"l"}}},
{"data":{"name":"f104"},"mark":{"type":"text","align":"left","baseline":"middle","font":"Liberation Sans","fontSize":70,"fill":"#111111"},"encoding":{"x":{"field":"tx"},"y":{"field":"ty"},"text":{"field":"label"}}}]},
{"width":1026,"height":597,"encoding":{"x":{"type":"quantitative","axis":null,"scale":{"domain":[-55,1607],"nice":false,"zero":false}},"y":{"type":"quantitative","axis":null,"scale":{"domain":[1272,-519],"nice":false,"zero":false}},"fill":{"type":"ordinal","legend":null,"scale":{"domain":[0,1,2,3,4],"range":["#fde0de","#e8a39b","#cf6b5b","#b0402c","#900606"]}}},"layer":[
{"data":{"name":"f208"},"mark":{"type":"rect","fill":"#fde0de"},"encoding":{"x":{"field":"x0","type":"quantitative"},"x2":{"field":"x1"},"y":{"field":"y0","type":"quantitative"},"y2":{"field":"y1"}}},
{"data":{"name":"a208"},"transform":[{"filter":"datum.g<10"}],"mark":{"type":"line","strokeWidth":0},"encoding":{"x":{"field":"x"},"y":{"field":"y"},"detail":{"field":"g"},"order":{"value":null},"fill":{"field":"l"}}},
{"data":{"name":"b208"},"transform":[{"filter":"datum.l==1"}],"mark":{"type":"point","filled":true,"shape":"circle","opacity":1},"encoding":{"x":{"field":"x"},"y":{"field":"y"},"size":{"field":"d","type":"quantitative","legend":null,"scale":{"type":"pow","exponent":2,"domain":[0,100],"range":[0,10000]}},"fill":{"field":"l"}}},
{"data":{"name":"a208"},"transform":[{"filter":"datum.g>=10"}],"mark":{"type":"line","strokeWidth":0},"encoding":{"x":{"field":"x"},"y":{"field":"y"},"detail":{"field":"g"},"order":{"value":null},"fill":{"field":"l"}}},
{"data":{"name":"b208"},"transform":[{"filter":"datum.l>1"}],"mark":{"type":"point","filled":true,"shape":"circle","opacity":1},"encoding":{"x":{"field":"x"},"y":{"field":"y"},"size":{"field":"d","type":"quantitative","legend":null,"scale":{"type":"pow","exponent":2,"domain":[0,100],"range":[0,10000]}},"fill":{"field":"l"}}},
{"data":{"name":"f208"},"mark":{"type":"text","align":"left","baseline":"middle","font":"Liberation Sans","fontSize":70,"fill":"#111111"},"encoding":{"x":{"field":"tx"},"y":{"field":"ty"},"text":{"field":"label"}}}]},
{"width":1026,"height":597,"encoding":{"x":{"type":"quantitative","axis":null,"scale":{"domain":[-82.6,1579.5],"nice":false,"zero":false}},"y":{"type":"quantitative","axis":null,"scale":{"domain":[1263,-528],"nice":false,"zero":false}},"fill":{"type":"ordinal","legend":null,"scale":{"domain":[0,1,2,3,4],"range":["#fde0de","#e8a39b","#cf6b5b","#b0402c","#900606"]}}},"layer":[
{"data":{"name":"f416"},"mark":{"type":"rect","fill":"#fde0de"},"encoding":{"x":{"field":"x0","type":"quantitative"},"x2":{"field":"x1"},"y":{"field":"y0","type":"quantitative"},"y2":{"field":"y1"}}},
{"data":{"name":"a416"},"transform":[{"filter":"datum.g<10"}],"mark":{"type":"line","strokeWidth":0},"encoding":{"x":{"field":"x"},"y":{"field":"y"},"detail":{"field":"g"},"order":{"value":null},"fill":{"field":"l"}}},
{"data":{"name":"b416"},"transform":[{"filter":"datum.l==1"}],"mark":{"type":"point","filled":true,"shape":"circle","opacity":1},"encoding":{"x":{"field":"x"},"y":{"field":"y"},"size":{"field":"d","type":"quantitative","legend":null,"scale":{"type":"pow","exponent":2,"domain":[0,100],"range":[0,10000]}},"fill":{"field":"l"}}},
{"data":{"name":"a416"},"transform":[{"filter":"datum.g>=10"}],"mark":{"type":"line","strokeWidth":0},"encoding":{"x":{"field":"x"},"y":{"field":"y"},"detail":{"field":"g"},"order":{"value":null},"fill":{"field":"l"}}},
{"data":{"name":"b416"},"transform":[{"filter":"datum.l>1"}],"mark":{"type":"point","filled":true,"shape":"circle","opacity":1},"encoding":{"x":{"field":"x"},"y":{"field":"y"},"size":{"field":"d","type":"quantitative","legend":null,"scale":{"type":"pow","exponent":2,"domain":[0,100],"range":[0,10000]}},"fill":{"field":"l"}}},
{"data":{"name":"f416"},"mark":{"type":"text","align":"left","baseline":"middle","font":"Liberation Sans","fontSize":70,"fill":"#111111"},"encoding":{"x":{"field":"tx"},"y":{"field":"ty"},"text":{"field":"label"}}}]},
{"width":1026,"height":597,"encoding":{"x":{"type":"quantitative","axis":null,"scale":{"domain":[-43.7,1618.4],"nice":false,"zero":false}},"y":{"type":"quantitative","axis":null,"scale":{"domain":[1353,-438],"nice":false,"zero":false}},"fill":{"type":"ordinal","legend":null,"scale":{"domain":[0,1,2,3,4],"range":["#fde0de","#e8a39b","#cf6b5b","#b0402c","#900606"]}}},"layer":[
{"data":{"name":"f832"},"mark":{"type":"rect","fill":"#fde0de"},"encoding":{"x":{"field":"x0","type":"quantitative"},"x2":{"field":"x1"},"y":{"field":"y0","type":"quantitative"},"y2":{"field":"y1"}}},
{"data":{"name":"a832"},"transform":[{"filter":"datum.g<10"}],"mark":{"type":"line","strokeWidth":0},"encoding":{"x":{"field":"x"},"y":{"field":"y"},"detail":{"field":"g"},"order":{"value":null},"fill":{"field":"l"}}},
{"data":{"name":"b832"},"transform":[{"filter":"datum.l==1"}],"mark":{"type":"point","filled":true,"shape":"circle","opacity":1},"encoding":{"x":{"field":"x"},"y":{"field":"y"},"size":{"field":"d","type":"quantitative","legend":null,"scale":{"type":"pow","exponent":2,"domain":[0,100],"range":[0,10000]}},"fill":{"field":"l"}}},
{"data":{"name":"a832"},"transform":[{"filter":"datum.g>=10"}],"mark":{"type":"line","strokeWidth":0},"encoding":{"x":{"field":"x"},"y":{"field":"y"},"detail":{"field":"g"},"order":{"value":null},"fill":{"field":"l"}}},
{"data":{"name":"b832"},"transform":[{"filter":"datum.l>1"}],"mark":{"type":"point","filled":true,"shape":"circle","opacity":1},"encoding":{"x":{"field":"x"},"y":{"field":"y"},"size":{"field":"d","type":"quantitative","legend":null,"scale":{"type":"pow","exponent":2,"domain":[0,100],"range":[0,10000]}},"fill":{"field":"l"}}},
{"data":{"name":"f832"},"mark":{"type":"text","align":"left","baseline":"middle","font":"Liberation Sans","fontSize":70,"fill":"#111111"},"encoding":{"x":{"field":"tx"},"y":{"field":"ty"},"text":{"field":"label"}}}]},
{"width":1026,"height":597,"encoding":{"x":{"type":"quantitative","axis":null,"scale":{"domain":[-76.1,1586],"nice":false,"zero":false}},"y":{"type":"quantitative","axis":null,"scale":{"domain":[1374,-417],"nice":false,"zero":false}},"fill":{"type":"ordinal","legend":null,"scale":{"domain":[0,1,2,3,4],"range":["#fde0de","#e8a39b","#cf6b5b","#b0402c","#900606"]}}},"layer":[
{"data":{"name":"f1664"},"mark":{"type":"rect","fill":"#fde0de"},"encoding":{"x":{"field":"x0","type":"quantitative"},"x2":{"field":"x1"},"y":{"field":"y0","type":"quantitative"},"y2":{"field":"y1"}}},
{"data":{"name":"a1664"},"transform":[{"filter":"datum.g<10"}],"mark":{"type":"line","strokeWidth":0},"encoding":{"x":{"field":"x"},"y":{"field":"y"},"detail":{"field":"g"},"order":{"value":null},"fill":{"field":"l"}}},
{"data":{"name":"b1664"},"transform":[{"filter":"datum.l==1"}],"mark":{"type":"point","filled":true,"shape":"circle","opacity":1},"encoding":{"x":{"field":"x"},"y":{"field":"y"},"size":{"field":"d","type":"quantitative","legend":null,"scale":{"type":"pow","exponent":2,"domain":[0,100],"range":[0,10000]}},"fill":{"field":"l"}}},
{"data":{"name":"a1664"},"transform":[{"filter":"datum.g>=10"}],"mark":{"type":"line","strokeWidth":0},"encoding":{"x":{"field":"x"},"y":{"field":"y"},"detail":{"field":"g"},"order":{"value":null},"fill":{"field":"l"}}},
{"data":{"name":"b1664"},"transform":[{"filter":"datum.l>1"}],"mark":{"type":"point","filled":true,"shape":"circle","opacity":1},"encoding":{"x":{"field":"x"},"y":{"field":"y"},"size":{"field":"d","type":"quantitative","legend":null,"scale":{"type":"pow","exponent":2,"domain":[0,100],"range":[0,10000]}},"fill":{"field":"l"}}},
{"data":{"name":"f1664"},"mark":{"type":"text","align":"left","baseline":"middle","font":"Liberation Sans","fontSize":70,"fill":"#111111"},"encoding":{"x":{"field":"tx"},"y":{"field":"ty"},"text":{"field":"label"}}}]},
{"width":1026,"height":597,"encoding":{"x":{"type":"quantitative","axis":null,"scale":{"domain":[-34,1628],"nice":false,"zero":false}},"y":{"type":"quantitative","axis":null,"scale":{"domain":[1374,-417],"nice":false,"zero":false}},"fill":{"type":"ordinal","legend":null,"scale":{"domain":[0,1,2,3,4],"range":["#fde0de","#e8a39b","#cf6b5b","#b0402c","#900606"]}}},"layer":[
{"data":{"name":"f3328"},"mark":{"type":"rect","fill":"#fde0de"},"encoding":{"x":{"field":"x0","type":"quantitative"},"x2":{"field":"x1"},"y":{"field":"y0","type":"quantitative"},"y2":{"field":"y1"}}},
{"data":{"name":"a3328"},"transform":[{"filter":"datum.g<10"}],"mark":{"type":"line","strokeWidth":0},"encoding":{"x":{"field":"x"},"y":{"field":"y"},"detail":{"field":"g"},"order":{"value":null},"fill":{"field":"l"}}},
{"data":{"name":"b3328"},"transform":[{"filter":"datum.l==1"}],"mark":{"type":"point","filled":true,"shape":"circle","opacity":1},"encoding":{"x":{"field":"x"},"y":{"field":"y"},"size":{"field":"d","type":"quantitative","legend":null,"scale":{"type":"pow","exponent":2,"domain":[0,100],"range":[0,10000]}},"fill":{"field":"l"}}},
{"data":{"name":"a3328"},"transform":[{"filter":"datum.g>=10"}],"mark":{"type":"line","strokeWidth":0},"encoding":{"x":{"field":"x"},"y":{"field":"y"},"detail":{"field":"g"},"order":{"value":null},"fill":{"field":"l"}}},
{"data":{"name":"b3328"},"transform":[{"filter":"datum.l>1"}],"mark":{"type":"point","filled":true,"shape":"circle","opacity":1},"encoding":{"x":{"field":"x"},"y":{"field":"y"},"size":{"field":"d","type":"quantitative","legend":null,"scale":{"type":"pow","exponent":2,"domain":[0,100],"range":[0,10000]}},"fill":{"field":"l"}}},
{"data":{"name":"f3328"},"mark":{"type":"text","align":"left","baseline":"middle","font":"Liberation Sans","fontSize":70,"fill":"#111111"},"encoding":{"x":{"field":"tx"},"y":{"field":"ty"},"text":{"field":"label"}}}]},
{"width":1026,"height":597,"encoding":{"x":{"type":"quantitative","axis":null,"scale":{"domain":[0,1026],"nice":false,"zero":false}},"y":{"type":"quantitative","axis":null,"scale":{"domain":[2985,2388],"nice":false,"zero":false}}},"layer":[
{"data":{"name":"legend"},"mark":{"type":"rect"},"encoding":{"x":{"field":"x0","type":"quantitative"},"x2":{"field":"x1"},"y":{"field":"y0","type":"quantitative"},"y2":{"field":"y1"},"fill":{"field":"l","type":"ordinal","legend":null,"scale":{"domain":[0,1,2,3,4],"range":["#fde0de","#e8a39b","#cf6b5b","#b0402c","#900606"]}}}},
{"data":{"name":"legend"},"mark":{"type":"text","align":"left","baseline":"middle","font":"Liberation Sans","fontSize":43,"fill":"#222222","x":161},"encoding":{"y":{"field":"ty"},"text":{"field":"t"}}},
{"data":{"name":"unit"},"mark":{"type":"text","align":"left","baseline":"middle","font":"Liberation Sans","fontSize":43,"fill":"#222222"},"encoding":{"x":{"field":"tx"},"y":{"field":"ty"},"text":{"field":"t"}}}]}
]}
